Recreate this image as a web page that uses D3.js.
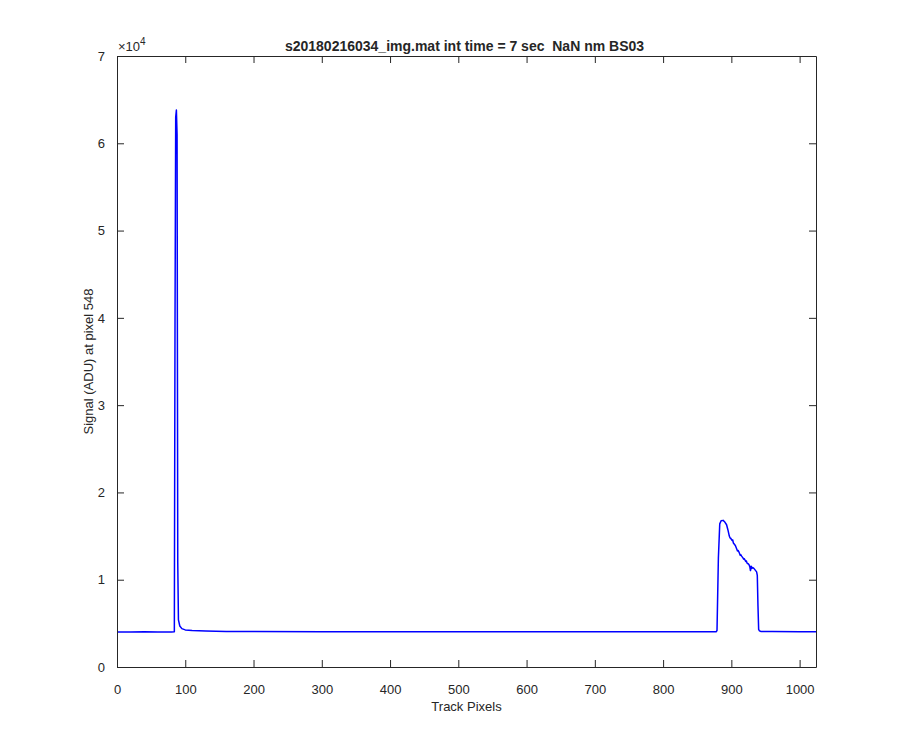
<!DOCTYPE html>
<html>
<head>
<meta charset="utf-8">
<script src="https://cdn.jsdelivr.net/npm/d3@7"></script>
<style>
  html, body { margin: 0; padding: 0; background: #fff; }
  svg { display: block; }
  text { font-family: "Liberation Sans", Arial, Helvetica, sans-serif; fill: #262626; }
</style>
</head>
<body>
<svg id="chart" width="900" height="750"></svg>
<script>
// ---- data ----
const titleText = "s20180216034_img.mat int time = 7 sec  NaN nm BS03";
const xLabel = "Track Pixels";
const yLabel = "Signal (ADU) at pixel 548";
const xTicks = [0, 100, 200, 300, 400, 500, 600, 700, 800, 900, 1000];
const yTicks = [0, 10000, 20000, 30000, 40000, 50000, 60000, 70000];
const xDomain = [0, 1024];
const yDomain = [0, 70000];
// track pixel positions and signal values (sparse points)
const trackPixels = [
  1, 20, 40, 60, 80, 84, 85, 86, 87, 88, 89, 90, 92, 95, 100, 110, 130, 160, 200, 300, 400, 500, 600, 700, 800, 860, 878,
  879, 881, 883, 885, 888, 890, 893, 895, 897, 898, 899, 901, 902, 903, 905, 906, 907, 909, 910, 911, 913, 914, 915, 917,
  918, 919, 921, 922, 923, 925, 926, 927, 928, 929, 930, 931, 933, 935, 937, 938, 939, 940, 941, 943, 960, 1000, 1024
];
const signal = [
  4020, 4010, 4030, 4010, 4020, 4050, 40000, 63000, 63800, 61000, 12000, 5400, 4700, 4400, 4250, 4180, 4120, 4080, 4060, 4050, 4040, 4040, 4040, 4030, 4030, 4040, 4050,
  4200, 12500, 16400, 16750, 16800, 16650, 16300, 15700, 15000, 14800, 14750, 14500, 14550, 14200, 14000, 13900, 13700, 13300, 13350, 13200, 12800, 12850, 12700, 12500,
  12350, 12400, 12100, 12150, 11900, 11800, 11700, 11500, 11050, 11550, 11300, 11400, 11300, 11100, 10900, 10500, 7000, 4300, 4150, 4080, 4060, 4050, 4050
];

// ---- layout ----
const svg = d3.select("#chart");
const m = { left: 117, right: 816, top: 56, bottom: 667 };
const x = d3.scaleLinear().domain(xDomain).range([m.left, m.right]);
const y = d3.scaleLinear().domain(yDomain).range([m.bottom, m.top]);
const axisColor = "#262626";
const tickLen = 7;

svg.append("rect").attr("x", m.left).attr("y", m.top)
  .attr("width", m.right - m.left).attr("height", m.bottom - m.top)
  .attr("fill", "#fff");

// data line
const pts = trackPixels.map((p, i) => [p, signal[i]]);
svg.append("path")
  .datum(pts)
  .attr("fill", "none")
  .attr("stroke", "#0000ff")
  .attr("stroke-width", 1.5)
  .attr("stroke-linejoin", "round")
  .attr("d", d3.line().x(d => x(d[0])).y(d => y(d[1])));

// axes
function styleAxis(g) {
  g.selectAll("path.domain").attr("stroke", axisColor).attr("stroke-width", 1);
  g.selectAll(".tick line").attr("stroke", axisColor).attr("stroke-width", 1);
  g.selectAll(".tick text").attr("fill", axisColor)
    .style("font-family", '"Liberation Sans", Arial, sans-serif').style("font-size", "13px");
}
const xAxis = svg.append("g").attr("transform", `translate(0,${m.bottom})`)
  .call(d3.axisBottom(x).tickValues(xTicks).tickSizeInner(-tickLen).tickSizeOuter(0).tickPadding(18).tickFormat(d3.format("d")));
styleAxis(xAxis);
const xAxisTop = svg.append("g").attr("transform", `translate(0,${m.top})`)
  .call(d3.axisTop(x).tickValues(xTicks).tickSizeInner(-tickLen).tickSizeOuter(0).tickFormat(""));
styleAxis(xAxisTop);
const yAxis = svg.append("g").attr("transform", `translate(${m.left},0)`)
  .call(d3.axisLeft(y).tickValues(yTicks).tickSizeInner(-tickLen).tickSizeOuter(0).tickPadding(12).tickFormat(d => d / 10000));
styleAxis(yAxis);
const yAxisRight = svg.append("g").attr("transform", `translate(${m.right},0)`)
  .call(d3.axisRight(y).tickValues(yTicks).tickSizeInner(-tickLen).tickSizeOuter(0).tickFormat(""));
styleAxis(yAxisRight);

// exponent label
const expT = svg.append("text").attr("x", m.left + 1).attr("y", m.top - 5)
  .style("font-size", "13px").attr("fill", axisColor);
expT.append("tspan").text("\u00d710");
expT.append("tspan").attr("dy", -6).style("font-size", "10px").text("4");

// title
svg.append("text").attr("x", (m.left + m.right) / 2 - 2).attr("y", 51)
  .attr("text-anchor", "middle").style("font-size", "14px").style("font-weight", "bold")
  .style("white-space", "pre").attr("xml:space", "preserve")
  .attr("fill", "#000").text(titleText);

// axis labels
svg.append("text").attr("x", (m.left + m.right) / 2).attr("y", 711)
  .attr("text-anchor", "middle").style("font-size", "13px").text(xLabel);
svg.append("text").attr("transform", `translate(93,${(m.top + m.bottom) / 2}) rotate(-90)`)
  .attr("text-anchor", "middle").style("font-size", "13px").text(yLabel);
</script>
</body>
</html>
